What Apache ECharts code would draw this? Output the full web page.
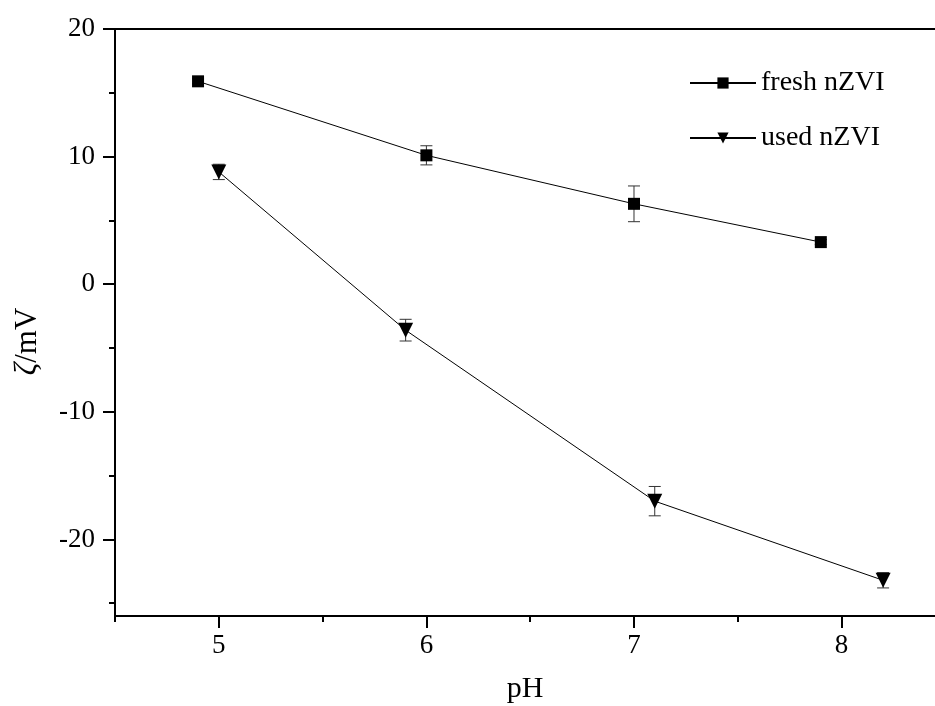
<!DOCTYPE html>
<html>
<head>
<meta charset="utf-8">
<script src="https://cdn.jsdelivr.net/npm/echarts@6/dist/echarts.min.js"></script>
<style>
  html, body { margin: 0; padding: 0; background: #fff; }
  #main { width: 935px; height: 706px; }
</style>
</head>
<body>
<div id="main"></div>
<script>
// pH values and zeta potentials
var freshPH = [4.9, 6.0, 7.0, 7.9];
var freshZeta = [15.9, 10.1, 6.3, 3.3];
var freshErr = [0.2, 0.75, 1.4, 0.2];

var usedPH = [5.0, 5.9, 7.1, 8.2];
var usedZeta = [8.8, -3.6, -17.0, -23.2];
var usedErr = [0.6, 0.85, 1.15, 0.6];

var xMajor = [5, 6, 7, 8];
var xMinor = [4.5, 5.5, 6.5, 7.5];
var yMajor = [-20, -10, 0, 10, 20];
var yMinor = [-25, -15, -5, 5, 15];

var font = 'Liberation Serif, Times New Roman, serif';

function pairs(xs, ys) {
    return xs.map(function (x, i) { return [x, ys[i]]; });
}
function errRows(xs, ys, es) {
    return xs.map(function (x, i) { return [x, ys[i] - es[i], ys[i] + es[i]]; });
}

function renderErr(params, api) {
    var x = api.value(0);
    var lo = api.coord([x, api.value(1)]);
    var hi = api.coord([x, api.value(2)]);
    var w = 6;
    var st = { stroke: '#333', lineWidth: 1 };
    return {
        type: 'group',
        children: [
            { type: 'line', shape: { x1: lo[0], y1: lo[1], x2: hi[0], y2: hi[1] }, style: st },
            { type: 'line', shape: { x1: lo[0] - w, y1: lo[1], x2: lo[0] + w, y2: lo[1] }, style: st },
            { type: 'line', shape: { x1: hi[0] - w, y1: hi[1], x2: hi[0] + w, y2: hi[1] }, style: st }
        ]
    };
}

var myChart = echarts.init(document.getElementById('main'));
var option = {
    backgroundColor: '#fff',
    animation: false,
    textStyle: { fontFamily: font, color: '#000' },
    grid: { left: 115, top: 29, right: 0, height: 587, outerBoundsMode: 'none' },
    legend: {
        orient: 'vertical',
        left: 684,
        top: 64,
        itemWidth: 66,
        itemHeight: 14,
        itemGap: 27,
        textStyle: { fontFamily: font, fontSize: 28, color: '#000' },
        data: ['fresh nZVI', 'used nZVI']
    },
    xAxis: [
        {
            type: 'value', position: 'bottom', min: 4.5, max: 8.45,
            name: 'pH', nameLocation: 'middle', nameGap: 58,
            nameTextStyle: { fontFamily: font, fontSize: 30, color: '#000' },
            axisLine: { show: true, onZero: false, lineStyle: { color: '#000', width: 2 } },
            axisTick: { show: true, customValues: xMajor, length: 12, lineStyle: { color: '#000', width: 2 } },
            axisLabel: { customValues: xMajor, margin: 16, fontFamily: font, fontSize: 27, color: '#000' },
            splitLine: { show: false }
        },
        {
            type: 'value', position: 'bottom', min: 4.5, max: 8.45,
            axisLine: { show: false, onZero: false },
            axisTick: { show: true, customValues: xMinor, length: 6, lineStyle: { color: '#000', width: 2 } },
            axisLabel: { show: false },
            splitLine: { show: false }
        },
        {
            type: 'value', position: 'top', min: 4.5, max: 8.45,
            axisLine: { show: true, onZero: false, lineStyle: { color: '#000', width: 2 } },
            axisTick: { show: false },
            axisLabel: { show: false },
            splitLine: { show: false }
        }
    ],
    yAxis: [
        {
            type: 'value', position: 'left', min: -26, max: 20,
            name: '{i|ζ}/mV', nameLocation: 'middle', nameGap: 72,
            nameTextStyle: {
                fontFamily: font, fontSize: 31, color: '#000',
                padding: [0, 38, 0, 0],
                rich: { i: { fontFamily: font, fontSize: 31, fontStyle: 'italic', color: '#000' } }
            },
            axisLine: { show: true, onZero: false, lineStyle: { color: '#000', width: 2 } },
            axisTick: { show: true, customValues: yMajor, length: 12, lineStyle: { color: '#000', width: 2 } },
            axisLabel: { customValues: yMajor, margin: 20, fontFamily: font, fontSize: 27, color: '#000' },
            splitLine: { show: false }
        },
        {
            type: 'value', position: 'left', min: -26, max: 20,
            axisLine: { show: false, onZero: false },
            axisTick: { show: true, customValues: yMinor, length: 6, lineStyle: { color: '#000', width: 2 } },
            axisLabel: { show: false },
            splitLine: { show: false }
        }
    ],
    series: [
        {
            type: 'custom', name: 'fresh err', renderItem: renderErr,
            data: errRows(freshPH, freshZeta, freshErr), z: 1,
            encode: { x: 0, y: [1, 2] }
        },
        {
            type: 'custom', name: 'used err', renderItem: renderErr,
            data: errRows(usedPH, usedZeta, usedErr), z: 1,
            encode: { x: 0, y: [1, 2] }
        },
        {
            name: 'fresh nZVI', type: 'line', z: 3,
            data: pairs(freshPH, freshZeta),
            symbol: 'rect', symbolSize: 12,
            lineStyle: { color: '#000', width: 1 },
            itemStyle: { color: '#000' }
        },
        {
            name: 'used nZVI', type: 'line', z: 3,
            data: pairs(usedPH, usedZeta),
            symbol: 'triangle', symbolRotate: 180, symbolSize: 15,
            lineStyle: { color: '#000', width: 1 },
            itemStyle: { color: '#000' }
        }
    ]
};
myChart.setOption(option);
</script>
</body>
</html>
